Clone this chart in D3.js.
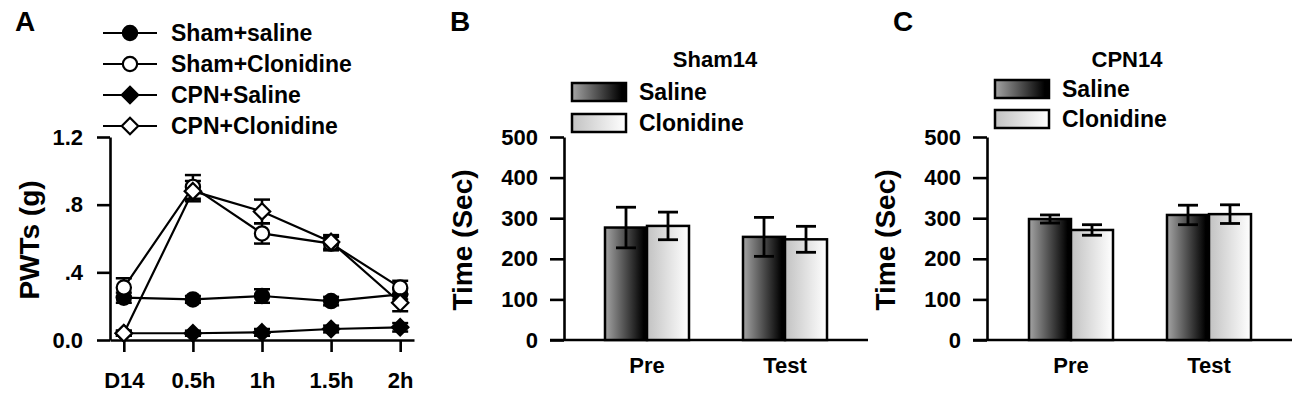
<!DOCTYPE html>
<html>
<head>
<meta charset="utf-8">
<script src="https://cdn.jsdelivr.net/npm/d3@7"></script>
<style>
  body { margin: 0; background: #fff; }
  text { font-family: "Liberation Sans", Arial, sans-serif; font-weight: bold; fill: #000; }
</style>
</head>
<body>
<div id="chart"></div>
<script>
// ---- panel A data (PWTs, g) ----
const timeLabels = ["D14", "0.5h", "1h", "1.5h", "2h"];
const pwtTicks = [0, 0.4, 0.8, 1.2];
const pwtTickLabels = ["0.0", ".4", ".8", "1.2"];
const shamSaline = [0.25, 0.24, 0.26, 0.23, 0.27];
const shamSalineErr = [0.03, 0.02, 0.04, 0.025, 0.03];
const shamClonidine = [0.31, 0.905, 0.63, 0.57, 0.31];
const shamClonidineErr = [0.055, 0.07, 0.06, 0.04, 0.04];
const cpnSaline = [0.04, 0.04, 0.045, 0.065, 0.075];
const cpnSalineErr = [0.015, 0.015, 0.02, 0.02, 0.025];
const cpnClonidine = [0.04, 0.88, 0.76, 0.58, 0.22];
const cpnClonidineErr = [0.015, 0.06, 0.07, 0.04, 0.05];

// ---- panels B, C data (time, sec) ----
const phases = ["Pre", "Test"];
const treatments = ["Saline", "Clonidine"];
const timeTicks = [0, 100, 200, 300, 400, 500];
const sham14Saline = [277, 254];
const sham14SalineErr = [50, 48];
const sham14Clonidine = [281, 248];
const sham14ClonidineErr = [34, 32];
const cpn14Saline = [298, 308];
const cpn14SalineErr = [10, 24];
const cpn14Clonidine = [271, 310];
const cpn14ClonidineErr = [13, 23];

const svg = d3.select("#chart").append("svg")
  .attr("width", 1300)
  .attr("height", 395);

const defs = svg.append("defs");
const gSal = defs.append("linearGradient").attr("id", "gradSaline");
gSal.append("stop").attr("offset", "0%").attr("stop-color", "#a4a4a4");
gSal.append("stop").attr("offset", "92%").attr("stop-color", "#000");
const gClo = defs.append("linearGradient").attr("id", "gradClonidine");
gClo.append("stop").attr("offset", "0%").attr("stop-color", "#c2c2c2");
gClo.append("stop").attr("offset", "100%").attr("stop-color", "#fff");
const fills = { Saline: "url(#gradSaline)", Clonidine: "url(#gradClonidine)" };

// square diamond (rotated square)
const diamond = {
  draw(ctx, size) {
    const r = Math.sqrt(size) / 2;
    ctx.moveTo(0, -r); ctx.lineTo(r, 0); ctx.lineTo(0, r); ctx.lineTo(-r, 0); ctx.closePath();
  }
};

function styleAxis(g) {
  g.selectAll("path, line").attr("stroke", "#000").attr("stroke-width", 2.6);
  g.selectAll("text").attr("font-size", 22).attr("fill", "#000")
    .style("font-family", "'Liberation Sans', Arial, sans-serif").style("font-weight", "bold");
}

// ================= Panel A =================
const xA = d3.scaleLinear().domain([-0.2, 4.2]).range([110, 414]);
const yA = d3.scaleLinear().domain([0, 1.2]).range([340, 137]);

svg.append("text").attr("x", 15).attr("y", 31).attr("font-size", 28).text("A");

svg.append("g").attr("transform", "translate(110,0)")
  .call(d3.axisLeft(yA).tickValues(pwtTicks).tickFormat((d, i) => pwtTickLabels[i])
    .tickSize(13).tickSizeOuter(0).tickPadding(14))
  .call(styleAxis);

svg.append("g").attr("transform", "translate(0,340)")
  .call(d3.axisBottom(xA).tickValues(d3.range(timeLabels.length)).tickFormat(i => timeLabels[i])
    .tickSize(12).tickSizeOuter(0).tickPadding(20))
  .call(styleAxis);

svg.append("text")
  .attr("transform", "translate(39,240) rotate(-90)")
  .attr("text-anchor", "middle").attr("font-size", 28)
  .text("PWTs (g)");

const seriesA = [
  { name: "Sham+saline", values: shamSaline, err: shamSalineErr, shape: d3.symbolCircle, fill: "#000" },
  { name: "Sham+Clonidine", values: shamClonidine, err: shamClonidineErr, shape: d3.symbolCircle, fill: "#fff" },
  { name: "CPN+Saline", values: cpnSaline, err: cpnSalineErr, shape: diamond, fill: "#000" },
  { name: "CPN+Clonidine", values: cpnClonidine, err: cpnClonidineErr, shape: diamond, fill: "#fff" }
];
const symSize = s => s === diamond ? 270 : 160;

const lineA = d3.line().x((d, i) => xA(i)).y(d => yA(d));

seriesA.forEach(s => {
  const g = svg.append("g");
  s.values.forEach((v, i) => {
    const cx = xA(i);
    g.append("line").attr("x1", cx).attr("x2", cx)
      .attr("y1", yA(v + s.err[i])).attr("y2", yA(v - s.err[i]))
      .attr("stroke", "#000").attr("stroke-width", 2.5);
    [v + s.err[i], v - s.err[i]].forEach(e => {
      g.append("line").attr("x1", cx - 8).attr("x2", cx + 8)
        .attr("y1", yA(e)).attr("y2", yA(e))
        .attr("stroke", "#000").attr("stroke-width", 2.5);
    });
  });
});
seriesA.forEach(s => {
  svg.append("path").datum(s.values).attr("d", lineA)
    .attr("fill", "none").attr("stroke", "#000").attr("stroke-width", 2.2);
});
seriesA.forEach(s => {
  svg.append("g").selectAll("path").data(s.values).join("path")
    .attr("transform", (d, i) => `translate(${xA(i)},${yA(d)})`)
    .attr("d", d3.symbol(s.shape, symSize(s.shape)))
    .attr("fill", s.fill).attr("stroke", "#000").attr("stroke-width", 2.2);
});

// legend A
const legA = d3.scalePoint().domain(seriesA.map(s => s.name)).range([33, 126]);
seriesA.forEach(s => {
  const y = legA(s.name);
  svg.append("line").attr("x1", 103).attr("x2", 157).attr("y1", y).attr("y2", y)
    .attr("stroke", "#000").attr("stroke-width", 2.2);
  svg.append("path").attr("transform", `translate(130,${y})`)
    .attr("d", d3.symbol(s.shape, symSize(s.shape)))
    .attr("fill", s.fill).attr("stroke", "#000").attr("stroke-width", 2.2);
  svg.append("text").attr("x", 171).attr("y", y + 8).attr("font-size", 23).text(s.name);
});

// ================= Panels B & C =================
function barPanel(opt) {
  const y = d3.scaleLinear().domain([0, 500]).range([340, 137]);
  const x0 = d3.scaleBand().domain(phases).range(opt.bandRange);
  const x1 = d3.scaleBand().domain(treatments).range([x0.bandwidth() / 2 - 42, x0.bandwidth() / 2 + 42]);

  svg.append("text").attr("x", opt.letterX).attr("y", 31).attr("font-size", 28).text(opt.letter);
  svg.append("text").attr("x", opt.titleX).attr("y", 67).attr("text-anchor", "middle")
    .attr("font-size", 22).text(opt.title);

  // legend
  treatments.forEach((t, i) => {
    const ly = opt.legendY[i];
    svg.append("rect").attr("x", opt.legendX).attr("y", ly).attr("width", 54).attr("height", 18)
      .attr("fill", fills[t]).attr("stroke", "#000").attr("stroke-width", 2.5);
    svg.append("text").attr("x", opt.legendX + 67).attr("y", ly + 17).attr("font-size", 23).text(t);
  });

  // axes
  svg.append("g").attr("transform", `translate(${opt.axisX},0)`)
    .call(d3.axisLeft(y).tickValues(timeTicks).tickSize(14).tickSizeOuter(0).tickPadding(12))
    .call(styleAxis);
  svg.append("line").attr("x1", opt.axisX - 14).attr("x2", opt.xEnd).attr("y1", 340).attr("y2", 340)
    .attr("stroke", "#000").attr("stroke-width", 2.6);
  svg.append("g").selectAll("text").data(phases).join("text")
    .attr("x", d => x0(d) + x0.bandwidth() / 2).attr("y", 373)
    .attr("text-anchor", "middle").attr("font-size", 22).text(d => d);

  svg.append("text")
    .attr("transform", `translate(${opt.axisX - 92},240) rotate(-90)`)
    .attr("text-anchor", "middle").attr("font-size", 28)
    .text("Time (Sec)");

  const rows = [];
  phases.forEach((p, pi) => {
    treatments.forEach((t, ti) => {
      rows.push({ phase: p, treat: t, value: opt.values[ti][pi], err: opt.errs[ti][pi] });
    });
  });

  const bars = svg.append("g");
  bars.selectAll("rect").data(rows).join("rect")
    .attr("x", d => x0(d.phase) + x1(d.treat))
    .attr("y", d => y(d.value))
    .attr("width", x1.bandwidth())
    .attr("height", d => y(0) - y(d.value))
    .attr("fill", d => fills[d.treat])
    .attr("stroke", "#000").attr("stroke-width", 2.5);

  rows.forEach(d => {
    const cx = x0(d.phase) + x1(d.treat) + x1.bandwidth() / 2;
    bars.append("line").attr("x1", cx).attr("x2", cx)
      .attr("y1", y(d.value + d.err)).attr("y2", y(d.value - d.err))
      .attr("stroke", "#000").attr("stroke-width", 2.8);
    [d.value + d.err, d.value - d.err].forEach(e => {
      bars.append("line").attr("x1", cx - 10).attr("x2", cx + 10)
        .attr("y1", y(e)).attr("y2", y(e))
        .attr("stroke", "#000").attr("stroke-width", 2.8);
    });
  });
}

barPanel({
  letter: "B", letterX: 450, title: "Sham14", titleX: 715,
  legendX: 572, legendY: [83, 114],
  axisX: 564, xEnd: 868, bandRange: [578, 854],
  values: [sham14Saline, sham14Clonidine], errs: [sham14SalineErr, sham14ClonidineErr]
});
barPanel({
  letter: "C", letterX: 893, title: "CPN14", titleX: 1127,
  legendX: 995, legendY: [80, 110],
  axisX: 987, xEnd: 1292, bandRange: [1002, 1278],
  values: [cpn14Saline, cpn14Clonidine], errs: [cpn14SalineErr, cpn14ClonidineErr]
});
</script>
</body>
</html>
